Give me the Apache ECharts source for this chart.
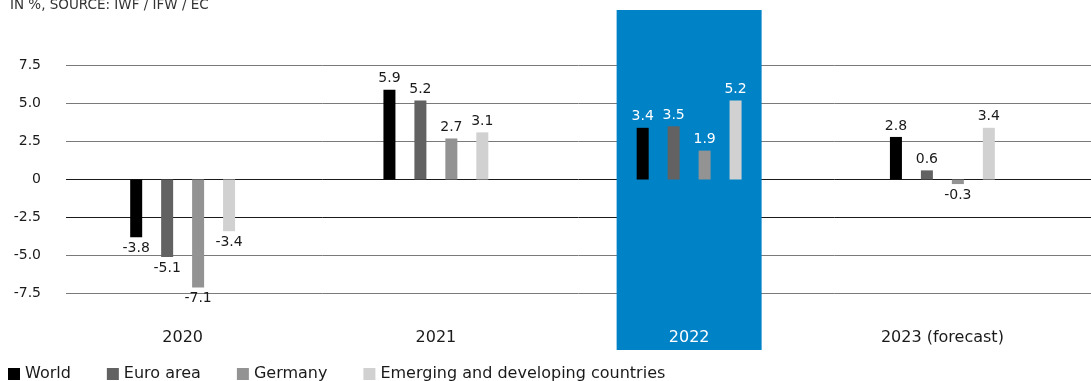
<!DOCTYPE html>
<html>
<head>
<meta charset="utf-8">
<script src="https://cdn.jsdelivr.net/npm/echarts@6/dist/echarts.min.js"></script>
<style>
html,body{margin:0;padding:0;background:#fff;}
#chart{width:1091px;height:381px;}
</style>
</head>
<body>
<div id="chart"></div>
<script>
const categories = ['2020', '2021', '2022', '2023 (forecast)'];
const highlightCategory = '2022';
const seriesNames = ['World', 'Euro area', 'Germany', 'Emerging and developing countries'];
const world = [-3.8, 5.9, 3.4, 2.8];
const euroArea = [-5.1, 5.2, 3.5, 0.6];
const germany = [-7.1, 2.7, 1.9, -0.3];
const emerging = [-3.4, 3.1, 5.2, 3.4];
const yTicks = { min: -7.5, max: 7.5, interval: 2.5 };
const titleText = 'IN %, SOURCE: IWF / IFW / EC';

const FONT = 'DejaVu Sans';
const TEXT = '#1a1a1a';
const barColors = ['#000000', '#626262', '#939393', '#d1d1d1'];
const allValues = [world, euroArea, germany, emerging];

function makeData(vals) {
  return vals.map((v, i) => ({
    value: v,
    label: {
      position: v < 0 ? 'bottom' : 'top',
      color: categories[i] === highlightCategory ? '#ffffff' : TEXT
    }
  }));
}

const barSeries = seriesNames.map((name, s) => ({
  name: name,
  type: 'bar',
  xAxisIndex: 1,
  yAxisIndex: 1,
  barWidth: 12,
  barGap: '158%',
  z: 3,
  itemStyle: { color: barColors[s] },
  label: {
    show: true,
    distance: 4,
    fontFamily: FONT,
    fontSize: 14,
    formatter: p => p.value.toFixed(1)
  },
  data: makeData(allValues[s])
}));

const chart = echarts.init(document.getElementById('chart'));
chart.setOption({
  animation: false,
  title: {
    text: titleText,
    left: 10, top: -2, padding: 0,
    textStyle: { fontFamily: FONT, fontSize: 13.5, fontWeight: 'normal', color: '#333' }
  },
  legend: {
    data: seriesNames,
    left: 8, top: 366, padding: 0,
    icon: 'rect', itemWidth: 12, itemHeight: 12, itemGap: 36,
    textStyle: { fontFamily: FONT, fontSize: 16, color: TEXT }
  },
  grid: [
    { left: 66, right: 0, top: 65.5, height: 228 },
    { left: 56, width: 1013, top: 65.5, height: 228 },
    { left: 56, width: 1013, top: 10, height: 340 }
  ],
  xAxis: [
    { gridIndex: 0, type: 'category', data: categories, show: false },
    {
      gridIndex: 1, type: 'category', data: categories, z: 10,
      axisLine: { show: false }, axisTick: { show: false },
      axisLabel: {
        margin: 36, fontFamily: FONT, fontSize: 16,
        color: (v) => v === highlightCategory ? '#ffffff' : TEXT
      }
    },
    { gridIndex: 2, type: 'category', data: categories, show: false }
  ],
  yAxis: [
    {
      gridIndex: 0, type: 'value', min: yTicks.min, max: yTicks.max, interval: yTicks.interval,
      axisLine: { show: false }, axisTick: { show: false },
      axisLabel: {
        margin: 25, fontFamily: FONT, fontSize: 14, color: TEXT,
        formatter: v => v === 0 ? '0' : v.toFixed(1)
      },
      splitLine: {
        lineStyle: {
          width: 1,
          color: ['#7a7a7a', '#7a7a7a', '#1a1a1a', '#1a1a1a', '#7a7a7a', '#7a7a7a', '#7a7a7a']
        }
      }
    },
    { gridIndex: 1, type: 'value', min: yTicks.min, max: yTicks.max, interval: yTicks.interval, show: false },
    { gridIndex: 2, type: 'value', min: 0, max: 1, show: false }
  ],
  series: [
    {
      name: 'highlight',
      type: 'bar',
      xAxisIndex: 2, yAxisIndex: 2,
      barWidth: 145,
      z: 2,
      silent: true,
      itemStyle: { color: '#0082c6' },
      data: categories.map(c => c === highlightCategory ? 1 : null)
    }
  ].concat(barSeries)
});
</script>
</body>
</html>
